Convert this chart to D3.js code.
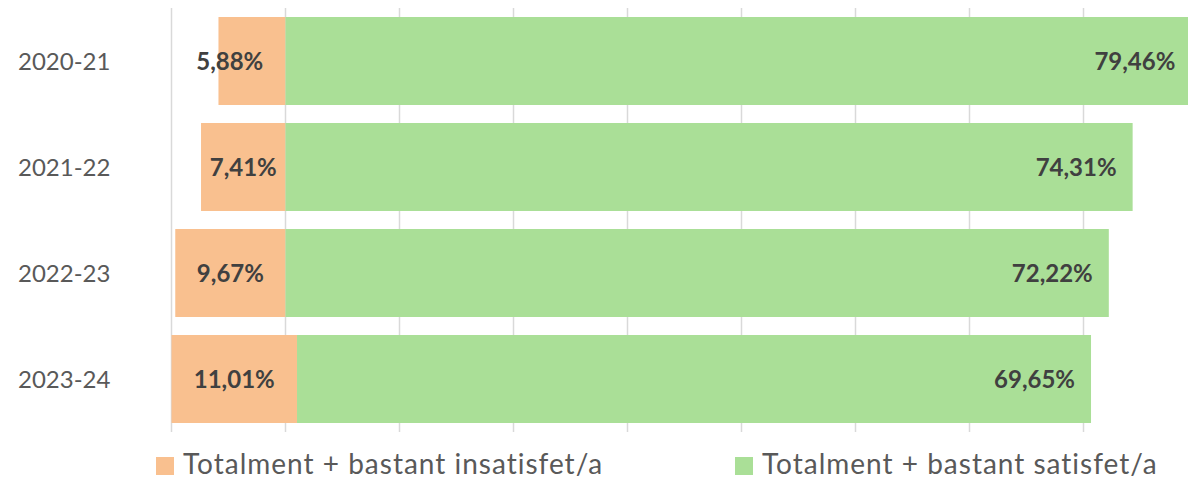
<!DOCTYPE html>
<html>
<head>
<meta charset="utf-8">
<script src="https://cdn.jsdelivr.net/npm/d3@7"></script>
<style>
body { margin: 0; background: #fff; }
svg { display: block; font-family: Lato, "Open Sans", sans-serif; }
</style>
</head>
<body>
<svg width="1188" height="482"></svg>
<script>
// data
const years = ["2020-21", "2021-22", "2022-23", "2023-24"];
const insatisfet = [5.88, 7.41, 9.67, 11.01];
const satisfet = [79.46, 74.31, 72.22, 69.65];
const seriesNames = ["Totalment + bastant insatisfet/a", "Totalment + bastant satisfet/a"];
const gridTicks = [0, 10, 20, 30, 40, 50, 60, 70, 80];

const orange = "#f9c08f";
const green = "#aadf97";

// the chart stacks an invisible spacer of (10 - insatisfet) before the bars,
// so the "zero" sits at 10 on the axis and the spacer is clipped at 0
rows = years.map(function(y, i) {
    var start = Math.max(0, 10 - insatisfet[i]);
    return {
        year: y,
        ins: insatisfet[i],
        sat: satisfet[i],
        o0: start,
        o1: start + insatisfet[i],
        g1: start + insatisfet[i] + satisfet[i]
    };
});

svg = d3.select("svg");

xScale = d3.scaleLinear()
    .domain([0, 90])
    .range([171.5, 1197.5]);

yScale = d3.scaleBand()
    .domain(years)
    .range([8, 432])
    .paddingInner(0.17)
    .paddingOuter(0.085);

// vertical gridlines
svg.append("g")
    .selectAll("line")
    .data(gridTicks)
    .enter()
    .append("line")
    .attr("x1", function(d) {return xScale(d);})
    .attr("x2", function(d) {return xScale(d);})
    .attr("y1", 8)
    .attr("y2", 432)
    .attr("stroke", "#d9d9d9")
    .attr("stroke-width", 1.5);

bars = svg.append("g");

bars.selectAll("rect.ins")
    .data(rows)
    .enter()
    .append("rect")
    .attr("class", "ins")
    .attr("x", function(d) {return xScale(d.o0);})
    .attr("width", function(d) {return xScale(d.o1) - xScale(d.o0);})
    .attr("y", function(d) {return yScale(d.year);})
    .attr("height", yScale.bandwidth())
    .attr("fill", orange);

bars.selectAll("rect.sat")
    .data(rows)
    .enter()
    .append("rect")
    .attr("class", "sat")
    .attr("x", function(d) {return xScale(d.o1);})
    .attr("width", function(d) {return xScale(d.g1) - xScale(d.o1);})
    .attr("y", function(d) {return yScale(d.year);})
    .attr("height", yScale.bandwidth())
    .attr("fill", green);

fmt = function(v) {return v.toFixed(2).replace(".", ",") + "%";};

// labels on the orange part: centred, the first one was dragged left a bit
bars.selectAll("text.ins")
    .data(rows)
    .enter()
    .append("text")
    .attr("class", "ins")
    .attr("x", function(d, i) {
        var mid = (d.o0 + d.o1) / 2;
        if (i == 0) mid = mid - 1.95;
        return xScale(mid);
    })
    .attr("y", function(d) {return yScale(d.year) + yScale.bandwidth() / 2;})
    .attr("dy", "0.36em")
    .attr("text-anchor", "middle")
    .attr("font-size", 24)
    .attr("font-weight", "bold")
    .attr("fill", "#404040")
    .text(function(d) {return fmt(d.ins);});

// labels at the inside end of the green part
bars.selectAll("text.sat")
    .data(rows)
    .enter()
    .append("text")
    .attr("class", "sat")
    .attr("x", function(d) {return xScale(d.g1) - 16;})
    .attr("y", function(d) {return yScale(d.year) + yScale.bandwidth() / 2;})
    .attr("dy", "0.36em")
    .attr("text-anchor", "end")
    .attr("font-size", 24)
    .attr("font-weight", "bold")
    .attr("fill", "#404040")
    .text(function(d) {return fmt(d.sat);});

// category labels on the left
svg.append("g")
    .selectAll("text")
    .data(years)
    .enter()
    .append("text")
    .attr("x", 18)
    .attr("y", function(d) {return yScale(d) + yScale.bandwidth() / 2;})
    .attr("dy", "0.36em")
    .attr("font-size", 24)
    .attr("fill", "#595959")
    .text(function(d) {return d;});

// legend
legend = svg.append("g")
    .selectAll("g")
    .data(seriesNames)
    .enter()
    .append("g")
    .attr("transform", function(d, i) {return "translate(" + [156, 735][i] + ",457)";});

legend.append("rect")
    .attr("width", 18)
    .attr("height", 18)
    .attr("fill", function(d, i) {return [orange, green][i];});

legend.append("text")
    .attr("x", 27)
    .attr("y", 17)
    .attr("font-size", 28)
    .attr("letter-spacing", 1)
    .attr("fill", "#595959")
    .text(function(d) {return d;});
</script>
</body>
</html>
